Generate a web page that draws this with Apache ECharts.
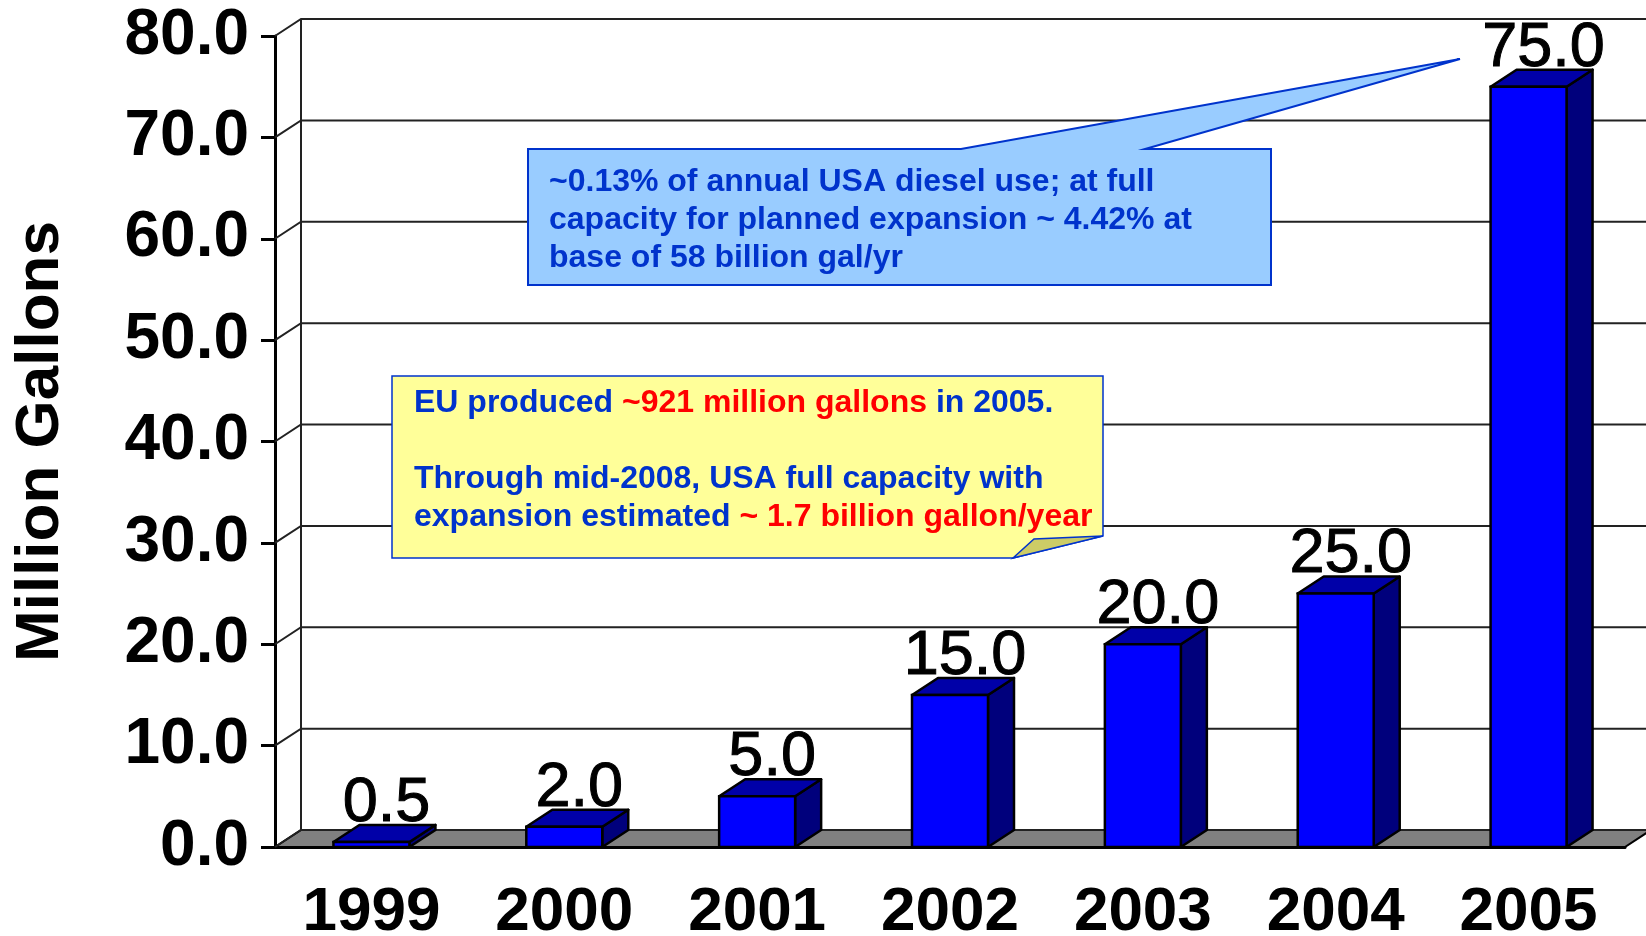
<!DOCTYPE html>
<html>
<head>
<meta charset="utf-8">
<title>Million Gallons</title>
<script src="https://cdn.jsdelivr.net/npm/echarts@6/dist/echarts.min.js"></script>
<style>
  html, body { margin: 0; padding: 0; background: #fff; }
  #chart { width: 1646px; height: 936px; }
</style>
</head>
<body>
<div id="chart"></div>
<script>
// data
const years = ['1999', '2000', '2001', '2002', '2003', '2004', '2005']
const gallons = [0.5, 2.0, 5.0, 15.0, 20.0, 25.0, 75.0]
const yTicks = [0, 10, 20, 30, 40, 50, 60, 70, 80]

// fake 3d depth
const DX = 26
const DY = -17
const FONT = '"Liberation Sans", Arial, sans-serif'
const TXT_BLUE = '#0033cc'
const TXT_RED = '#ff0000'

var chart = echarts.init(document.getElementById('chart'))

function renderFloor(params, api) {
  const cs = params.coordSys
  const y0 = api.coord([0, 0])[1]
  const yTop = api.coord([0, yTicks[yTicks.length - 1]])[1]
  const x0 = cs.x
  const x1 = cs.x + cs.width
  return {
    type: 'group',
    children: [
      {
        type: 'polygon',
        shape: { points: [[x0, y0], [x1, y0], [x1 + DX, y0 + DY], [x0 + DX, y0 + DY]] },
        style: { fill: '#808080', stroke: '#000', lineWidth: 2 }
      },
      {
        type: 'line',
        shape: { x1: x0 + DX, y1: y0 + DY, x2: x0 + DX, y2: yTop + DY },
        style: { stroke: '#222', lineWidth: 2 }
      }
    ]
  }
}

function renderWall(params, api) {
  const cs = params.coordSys
  const y = api.coord([0, api.value(1)])[1]
  const x0 = cs.x
  const x1 = cs.x + cs.width
  return {
    type: 'polyline',
    shape: { points: [[x0, y], [x0 + DX, y + DY], [x1 + DX, y + DY]] },
    style: { stroke: '#222', lineWidth: 2, fill: null }
  }
}

function renderBar(params, api) {
  const v = api.value(1)
  const top = api.coord([api.value(0), v])
  const base = api.coord([api.value(0), 0])
  const w = api.size([1, 0])[0] * 0.394
  const xl = top[0] - w / 2
  const xr = top[0] + w / 2
  const yt = top[1]
  const yb = base[1]
  return {
    type: 'group',
    children: [
      {
        type: 'polygon',
        shape: { points: [[xr, yb], [xr, yt], [xr + DX, yt + DY], [xr + DX, yb + DY]] },
        style: { fill: '#00007c', stroke: '#000', lineWidth: 2.5, lineJoin: 'round' }
      },
      {
        type: 'polygon',
        shape: { points: [[xl, yt], [xr, yt], [xr + DX, yt + DY], [xl + DX, yt + DY]] },
        style: { fill: '#0000a8', stroke: '#000', lineWidth: 2.5, lineJoin: 'round' }
      },
      {
        type: 'rect',
        shape: { x: xl, y: yt, width: w, height: yb - yt },
        style: { fill: '#0000ff', stroke: '#000', lineWidth: 2.5 }
      },
      {
        type: 'text',
        x: top[0] + DX / 2 + 2,
        y: yt + DY + 10,
        style: {
          text: v.toFixed(1),
          fontSize: 63,
          fontFamily: FONT,
          fill: '#000',
          stroke: '#000',
          lineWidth: 1,
          align: 'center',
          verticalAlign: 'bottom'
        }
      }
    ]
  }
}

const option = {
  animation: false,
  backgroundColor: '#fff',
  grid: { left: 275, right: 21, top: 36, bottom: 89, containLabel: false, outerBoundsMode: 'none' },
  xAxis: {
    type: 'category',
    data: years,
    axisLine: { lineStyle: { color: '#000', width: 3 } },
    axisTick: { length: 15, lineStyle: { color: '#000', width: 3 } },
    axisLabel: { fontSize: 62, fontWeight: 'bold', color: '#000', fontFamily: FONT, margin: 35 }
  },
  yAxis: {
    type: 'value',
    min: 0,
    max: 80,
    interval: 10,
    axisLine: { show: true, lineStyle: { color: '#000', width: 3 } },
    axisTick: { show: true, length: 14, lineStyle: { color: '#000', width: 3 } },
    splitLine: { show: false },
    axisLabel: {
      formatter: v => v.toFixed(1),
      fontSize: 64, fontWeight: 'bold', color: '#000', fontFamily: FONT, margin: 26
    },
    name: 'Million Gallons',
    nameLocation: 'middle',
    nameRotate: 90,
    nameGap: 203,
    nameTextStyle: { fontSize: 62, fontWeight: 'bold', color: '#000', fontFamily: FONT }
  },
  series: [
    {
      type: 'custom',
      z: 1,
      renderItem: renderFloor,
      data: [[0, 0]],
      silent: true
    },
    {
      type: 'custom',
      z: 2,
      renderItem: renderWall,
      data: yTicks.map(v => [0, v]),
      silent: true
    },
    {
      type: 'custom',
      z: 3,
      renderItem: renderBar,
      data: gallons.map((v, i) => [i, v])
    }
  ],
  graphic: [
    // blue callout pointing at the 2005 bar
    {
      type: 'polygon',
      z: 100,
      shape: {
        points: [[528, 149], [961, 149], [1460, 59], [1145, 149], [1271, 149], [1271, 285], [528, 285]]
      },
      style: { fill: '#99ccff', stroke: '#0033cc', lineWidth: 2 }
    },
    {
      type: 'text',
      z: 101,
      left: 549,
      top: 163,
      style: {
        text: '~0.13% of annual USA diesel use; at full\ncapacity for planned expansion ~ 4.42% at\nbase of 58 billion gal/yr',
        fontSize: 32,
        fontWeight: 'bold',
        fontFamily: FONT,
        fill: TXT_BLUE,
        lineHeight: 38
      }
    },
    // yellow note with folded corner
    {
      type: 'polygon',
      z: 100,
      shape: {
        points: [[392, 376], [1103, 376], [1103, 536], [1013, 558], [392, 558]]
      },
      style: { fill: '#ffff99', stroke: '#0033cc', lineWidth: 1.5 }
    },
    {
      type: 'polygon',
      z: 101,
      shape: { points: [[1013, 558], [1034, 539], [1103, 536]] },
      style: { fill: '#cccc66', stroke: '#0033cc', lineWidth: 1.5 }
    },
    {
      type: 'text',
      z: 101,
      left: 414,
      top: 384,
      style: {
        text: '{b|EU produced }{r|~921 million gallons}{b| in 2005.}\n\n' +
          '{b|Through mid-2008, USA full capacity with}\n' +
          '{b|expansion estimated }{r|~ 1.7 billion gallon/year}',
        fontSize: 32,
        fontWeight: 'bold',
        fontFamily: FONT,
        lineHeight: 38,
        rich: {
          b: { fill: TXT_BLUE, fontSize: 32, fontWeight: 'bold', fontFamily: FONT, lineHeight: 38 },
          r: { fill: TXT_RED, fontSize: 32, fontWeight: 'bold', fontFamily: FONT, lineHeight: 38 }
        }
      }
    }
  ]
}

option && chart.setOption(option)
</script>
</body>
</html>
